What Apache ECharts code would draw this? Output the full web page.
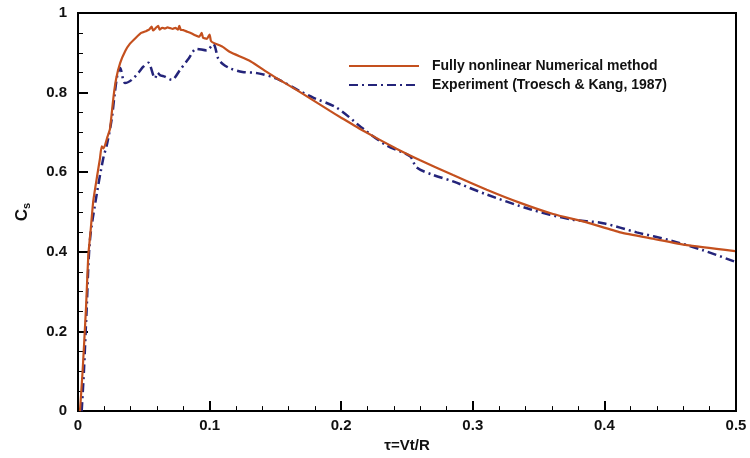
<!DOCTYPE html>
<html>
<head>
<meta charset="utf-8">
<script src="https://cdn.jsdelivr.net/npm/echarts@6/dist/echarts.min.js"></script>
<style>
  html, body { margin: 0; padding: 0; background: #fff; }
  #chart { width: 750px; height: 458px; }
</style>
</head>
<body>
<div id="chart"></div>
<script>
// Slamming coefficient Cs versus non-dimensional time tau = Vt/R

// Fully nonlinear numerical method
const numTau = [0.0015, 0.0035, 0.0061, 0.0078, 0.0095, 0.0116, 0.0145, 0.0167, 0.018, 0.0195,
  0.0225, 0.0243, 0.027, 0.029, 0.032, 0.036, 0.0395, 0.044, 0.048, 0.052,
  0.054, 0.056, 0.057, 0.059, 0.061, 0.062, 0.064, 0.066, 0.068, 0.070,
  0.072, 0.074, 0.076, 0.077, 0.078, 0.080, 0.083, 0.086, 0.089, 0.092,
  0.094, 0.095, 0.098, 0.100, 0.101, 0.103, 0.110, 0.1155, 0.131, 0.1434,
  0.150, 0.166, 0.180, 0.1915, 0.200, 0.2168, 0.242, 0.260, 0.285, 0.3106,
  0.336, 0.361, 0.3865, 0.412, 0.437, 0.4625, 0.4993];
const numCs = [0, 0.10, 0.26, 0.39, 0.45, 0.528, 0.59, 0.635, 0.665, 0.66,
  0.69, 0.709, 0.79, 0.835, 0.874, 0.905, 0.923, 0.938, 0.95, 0.955,
  0.958, 0.966, 0.956, 0.962, 0.968, 0.958, 0.963, 0.961, 0.964, 0.962,
  0.960, 0.963, 0.958, 0.968, 0.958, 0.957, 0.953, 0.949, 0.944, 0.940,
  0.950, 0.938, 0.935, 0.946, 0.930, 0.925, 0.915, 0.902, 0.879, 0.852,
  0.838, 0.807, 0.778, 0.754, 0.737, 0.704, 0.659, 0.630, 0.593, 0.556,
  0.523, 0.495, 0.474, 0.449, 0.433, 0.417, 0.402];

// Experiment (Troesch & Kang, 1987)
const expTau = [0.0028, 0.0045, 0.0065, 0.0091, 0.0142, 0.0192, 0.022, 0.0256, 0.028, 0.030,
  0.032, 0.0357, 0.0408, 0.046, 0.0496, 0.0534, 0.0585, 0.0605, 0.0623, 0.066,
  0.0712, 0.0775, 0.084, 0.090, 0.0978, 0.1028, 0.1066, 0.110, 0.1155, 0.125,
  0.136, 0.151, 0.169, 0.179, 0.1966, 0.2168, 0.2346, 0.2523, 0.2573, 0.270,
  0.285, 0.3106, 0.3435, 0.374, 0.399, 0.4245, 0.450, 0.475, 0.4993];
const expCs = [0, 0.10, 0.25, 0.43, 0.544, 0.635, 0.67, 0.733, 0.80, 0.845,
  0.862, 0.824, 0.832, 0.85, 0.865, 0.875, 0.836, 0.85, 0.844, 0.84,
  0.832, 0.857, 0.885, 0.910, 0.906, 0.922, 0.885, 0.872, 0.861, 0.852,
  0.849, 0.835, 0.803, 0.787, 0.762, 0.709, 0.667, 0.640, 0.612, 0.593,
  0.577, 0.544, 0.507, 0.482, 0.472, 0.449, 0.429, 0.404, 0.375];

const xTicks = [0, 0.1, 0.2, 0.3, 0.4, 0.5];
const yTicks = [0, 0.2, 0.4, 0.6, 0.8, 1];

const pairs = (xs, ys) => xs.map((x, i) => [x, ys[i]]);

const FONT = 'Liberation Sans, Arial, sans-serif';
const RED = '#c4501e';
const NAVY = '#24247a';

const axisCommon = {
  axisLine: { show: true, onZero: false, lineStyle: { color: '#000', width: 2 } },
  axisTick: { show: true, inside: true, length: 10, lineStyle: { color: '#000', width: 2 } },
  minorTick: { show: true, length: 5, lineStyle: { color: '#000', width: 1 } },
  splitLine: { show: false },
  axisLabel: { color: '#111', fontFamily: FONT, fontWeight: 'bold', fontSize: 15 }
};

const chart = echarts.init(document.getElementById('chart'), null, { renderer: 'canvas' });
chart.setOption({
  animation: false,
  backgroundColor: '#fff',
  grid: { left: 78, right: 14, top: 13, bottom: 41, show: true, borderColor: '#000', borderWidth: 2 },
  legend: {
    orient: 'vertical',
    left: 348,
    top: 59,
    padding: 0,
    itemWidth: 70,
    itemHeight: 14,
    itemGap: 5,
    // line-only legend keys (no marker symbol)
    itemStyle: { opacity: 0 },
    textStyle: { fontFamily: FONT, fontWeight: 'bold', fontSize: 14, color: '#111', padding: [0, 0, 0, 8] },
    data: ['Fully nonlinear Numerical method', 'Experiment (Troesch & Kang, 1987)']
  },
  xAxis: Object.assign({}, axisCommon, {
    type: 'value',
    min: xTicks[0],
    max: xTicks[xTicks.length - 1],
    interval: 0.1,
    minorTick: Object.assign({}, axisCommon.minorTick, { splitNumber: 5 }),
    axisLabel: Object.assign({}, axisCommon.axisLabel, { margin: 7 }),
    name: 'τ=Vt/R',
    nameLocation: 'middle',
    nameGap: 20,
    nameTextStyle: { fontFamily: FONT, fontWeight: 'bold', fontSize: 15, color: '#111' }
  }),
  yAxis: Object.assign({}, axisCommon, {
    type: 'value',
    min: yTicks[0],
    max: yTicks[yTicks.length - 1],
    interval: 0.2,
    minorTick: Object.assign({}, axisCommon.minorTick, { splitNumber: 4 }),
    axisLabel: Object.assign({}, axisCommon.axisLabel, { margin: 11 }),
    name: '{c|C}{s|s}',
    nameLocation: 'middle',
    nameGap: 46,
    nameTextStyle: {
      rich: {
        c: { fontFamily: FONT, fontWeight: 'bold', fontSize: 17, color: '#111' },
        s: { fontFamily: FONT, fontWeight: 'bold', fontSize: 11, color: '#111', verticalAlign: 'bottom', padding: [8, 0, 0, 0] }
      }
    }
  }),
  series: [
    {
      name: 'Fully nonlinear Numerical method',
      type: 'line',
      data: pairs(numTau, numCs),
      symbol: 'none',
      smooth: 0.15,
      lineStyle: { color: RED, width: 2.2 },
      itemStyle: { color: RED },
      z: 3
    },
    {
      name: 'Experiment (Troesch & Kang, 1987)',
      type: 'line',
      data: pairs(expTau, expCs),
      symbol: 'none',
      smooth: 0.3,
      lineStyle: { color: NAVY, width: 2.5, type: [9, 4, 2, 4] },
      itemStyle: { color: NAVY },
      z: 2
    }
  ]
});
</script>
</body>
</html>
